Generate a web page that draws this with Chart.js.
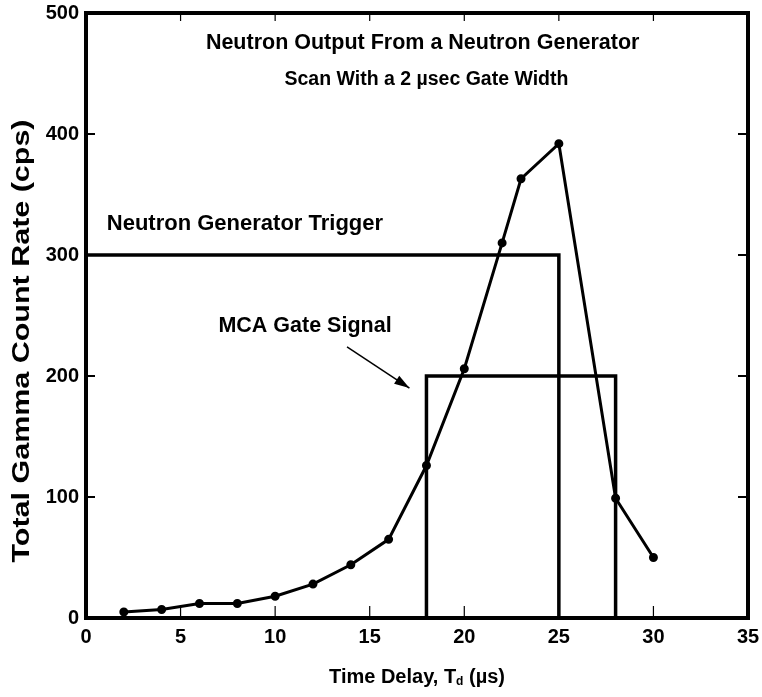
<!DOCTYPE html>
<html>
<head>
<meta charset="utf-8">
<script src="https://cdn.jsdelivr.net/npm/chart.js"></script>
<style>
  body { margin: 0; background: #fff; }
  #wrap { width: 762px; height: 697px; }
</style>
</head>
<body>
<div id="wrap"><canvas id="neutronCanvas"></canvas></div>
<script>
// data
const timeDelay = [2, 4, 6, 8, 10, 12, 14, 16, 18, 20, 22, 23, 25, 28, 30];
const countRate = [5, 7, 12, 12, 18, 28, 44, 65, 126, 206, 310, 363, 392, 99, 50];

const triggerX = [0, 25, 25];
const triggerY = [300, 300, 0];
const gateX = [18, 18, 28, 28];
const gateY = [0, 200, 200, 0];

const xTicks = [0, 5, 10, 15, 20, 25, 30, 35];
const yTicks = [0, 100, 200, 300, 400, 500];

const narrow = '"Liberation Sans Narrow", "Arial Narrow", "Liberation Sans", sans-serif';
const wide = '"Liberation Sans", Arial, sans-serif';

function toPoints(xs, ys) {
  return xs.map((x, i) => ({ x: x, y: ys[i] }));
}

// frame, inner ticks, labels and arrow
const decorations = {
  id: 'decorations',
  afterDraw(chart) {
    const ctx = chart.ctx;
    const a = chart.chartArea;
    const xs = chart.scales.x;
    const ys = chart.scales.y;
    ctx.save();
    ctx.strokeStyle = '#000';
    ctx.fillStyle = '#000';

    // inward ticks
    ctx.lineWidth = 2;
    yTicks.slice(1, -1).forEach(v => {
      const py = ys.getPixelForValue(v);
      ctx.beginPath();
      ctx.moveTo(a.left, py); ctx.lineTo(a.left + 9, py);
      ctx.moveTo(a.right, py); ctx.lineTo(a.right - 10, py);
      ctx.stroke();
    });
    ctx.lineWidth = 1.2;
    xTicks.slice(1, -1).forEach(v => {
      const px = xs.getPixelForValue(v);
      ctx.beginPath();
      ctx.moveTo(px, a.top); ctx.lineTo(px, a.top + 8);
      ctx.moveTo(px, a.bottom); ctx.lineTo(px, a.bottom - 12);
      ctx.stroke();
    });

    // frame
    ctx.lineWidth = 4;
    ctx.strokeRect(a.left, a.top, a.right - a.left, a.bottom - a.top);

    // texts inside the plot
    ctx.textBaseline = 'middle';
    ctx.textAlign = 'center';
    ctx.font = 'bold 21.5px ' + narrow;
    ctx.fillText('Neutron Output From a Neutron Generator', xs.getPixelForValue(17.8), ys.getPixelForValue(475));
    ctx.font = 'bold 19.5px ' + narrow;
    ctx.fillText('Scan With a 2 \u00b5sec Gate Width', xs.getPixelForValue(18.0), ys.getPixelForValue(445));

    ctx.textAlign = 'left';
    ctx.font = 'bold 22px ' + narrow;
    ctx.fillText('Neutron Generator Trigger', xs.getPixelForValue(1.1), ys.getPixelForValue(326));
    ctx.font = 'bold 21.5px ' + narrow;
    ctx.fillText('MCA Gate Signal', xs.getPixelForValue(7.0), ys.getPixelForValue(241));

    // arrow to the gate
    const x0 = xs.getPixelForValue(13.8), y0 = ys.getPixelForValue(224);
    const x1 = xs.getPixelForValue(17.1), y1 = ys.getPixelForValue(190);
    const ang = Math.atan2(y1 - y0, x1 - x0);
    ctx.lineWidth = 1.5;
    ctx.beginPath();
    ctx.moveTo(x0, y0); ctx.lineTo(x1, y1);
    ctx.stroke();
    ctx.beginPath();
    ctx.moveTo(x1, y1);
    ctx.lineTo(x1 - 16 * Math.cos(ang - 0.3), y1 - 16 * Math.sin(ang - 0.3));
    ctx.lineTo(x1 - 16 * Math.cos(ang + 0.3), y1 - 16 * Math.sin(ang + 0.3));
    ctx.closePath();
    ctx.fill();

    // x axis title with subscript
    const cx = (a.left + a.right) / 2;
    const ty = 677;
    ctx.font = 'bold 20px ' + narrow;
    const p1 = 'Time Delay, T';
    const p3 = ' (\u00b5s)';
    const w1 = ctx.measureText(p1).width;
    const w3 = ctx.measureText(p3).width;
    ctx.font = 'bold 12px ' + narrow;
    const w2 = ctx.measureText('d').width;
    let sx = cx - (w1 + w2 + w3) / 2;
    ctx.font = 'bold 20px ' + narrow;
    ctx.fillText(p1, sx, ty);
    ctx.font = 'bold 12px ' + narrow;
    ctx.fillText('d', sx + w1, ty + 5);
    ctx.font = 'bold 20px ' + narrow;
    ctx.fillText(p3, sx + w1 + w2, ty);

    // y axis title, stretched along the axis like the original
    ctx.save();
    ctx.translate(23, 341);
    ctx.rotate(-Math.PI / 2);
    ctx.font = 'bold 23px ' + wide;
    ctx.textAlign = 'center';
    const yTitle = 'Total Gamma Count Rate (cps)';
    const k = 443 / ctx.measureText(yTitle).width;
    ctx.scale(k, 1);
    ctx.fillText(yTitle, 0, 0);
    ctx.restore();

    ctx.restore();
  }
};

new Chart(document.getElementById('neutronCanvas'), {
  type: 'scatter',
  data: {
    datasets: [{
      data: toPoints(timeDelay, countRate),
      showLine: true,
      borderColor: '#000',
      backgroundColor: '#000',
      borderWidth: 3,
      pointRadius: 3,
      tension: 0
    }, {
      data: toPoints(triggerX, triggerY),
      showLine: true,
      borderColor: '#000',
      borderWidth: 3.5,
      pointRadius: 0,
      tension: 0
    }, {
      data: toPoints(gateX, gateY),
      showLine: true,
      borderColor: '#000',
      borderWidth: 3.5,
      pointRadius: 0,
      tension: 0
    }]
  },
  options: {
    responsive: true,
    maintainAspectRatio: false,
    animation: false,
    layout: { padding: { top: 13, right: 14 } },
    plugins: { legend: { display: false }, tooltip: { enabled: false } },
    scales: {
      x: {
        type: 'linear',
        min: 0, max: 35,
        afterFit(scale) {
          scale.height = 79;
          scale.paddingLeft = 0;
          scale.paddingRight = 0;
        },
        afterBuildTicks(scale) { scale.ticks = xTicks.map(v => ({ value: v })); },
        grid: { display: false },
        border: { display: false },
        ticks: { color: '#000', padding: -1, font: { family: narrow, size: 20, weight: 'bold' } }
      },
      y: {
        min: 0, max: 500,
        afterFit(scale) {
          scale.width = 86;
          scale.paddingTop = 0;
          scale.paddingBottom = 0;
        },
        afterBuildTicks(scale) { scale.ticks = yTicks.map(v => ({ value: v })); },
        grid: { display: false },
        border: { display: false },
        ticks: { color: '#000', padding: -1, font: { family: narrow, size: 20, weight: 'bold' } }
      }
    }
  },
  plugins: [decorations]
});
</script>
</body>
</html>
